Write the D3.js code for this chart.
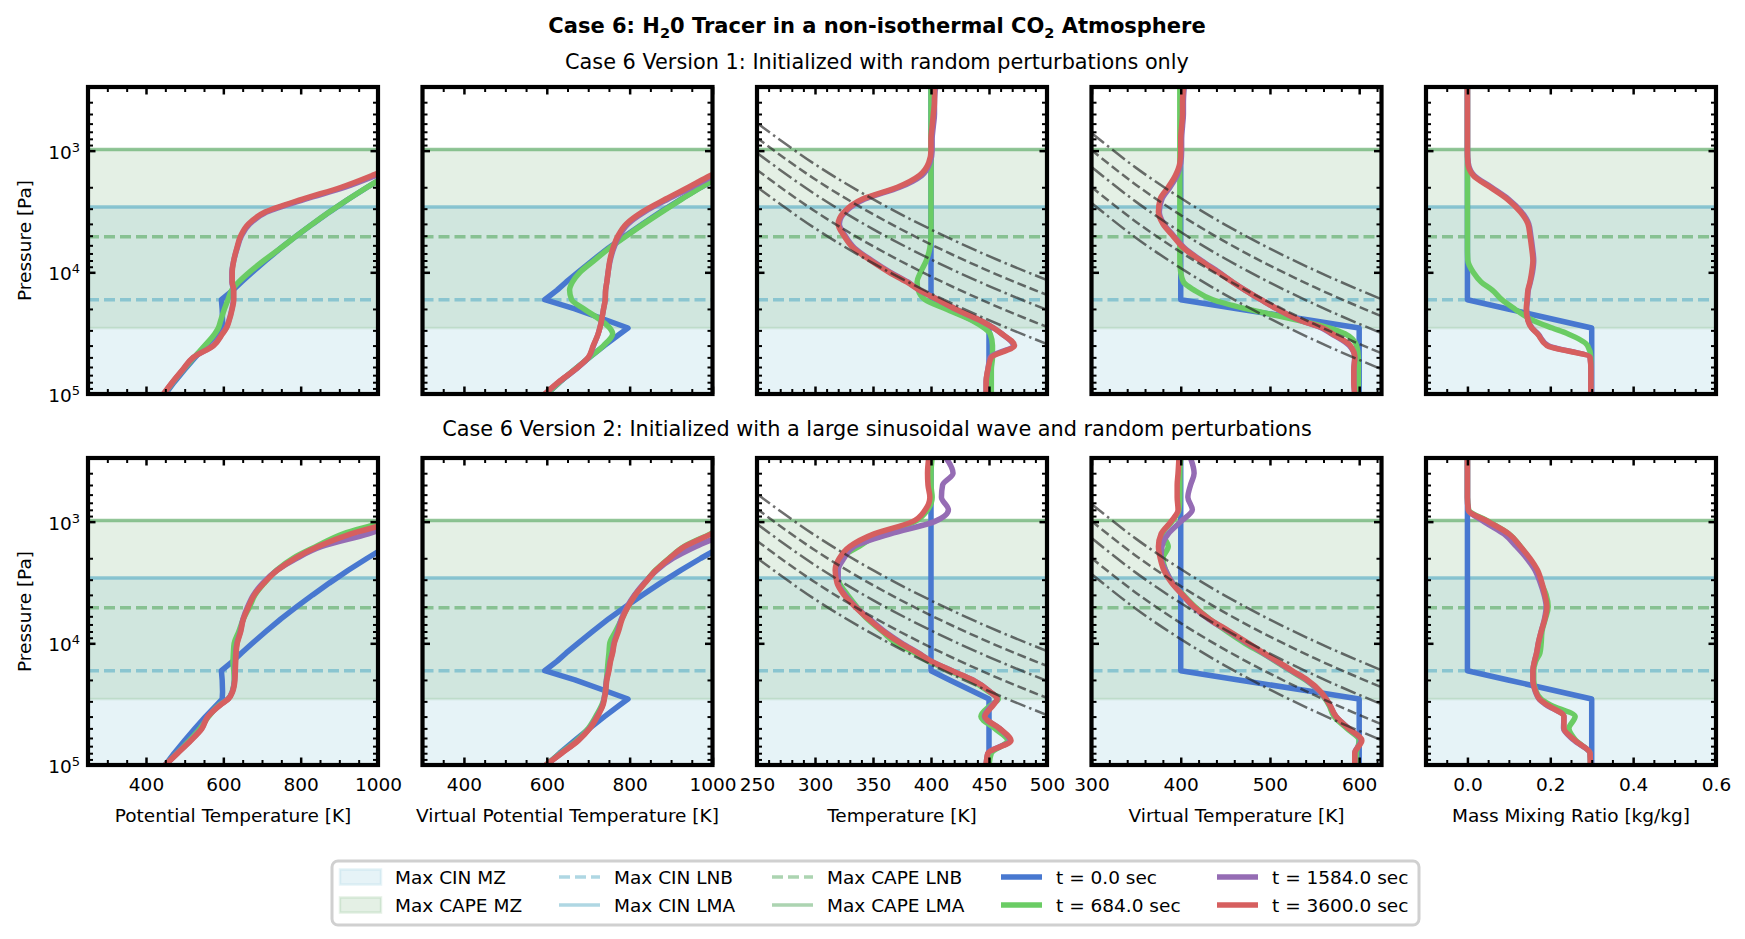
<!DOCTYPE html>
<html>
<head>
<meta charset="utf-8">
<title>Case 6 tracer profiles</title>
<script src="https://cdn.jsdelivr.net/npm/d3@7"></script>
<style>
  body { margin: 0; background: #fff; }
  text { font-family: "DejaVu Sans", sans-serif; }
</style>
</head>
<body>
<script>

// pressure levels [Pa] that every profile is read at, surface first
var pLevels = [100000, 80000, 63000, 50000, 40000, 32000, 28700, 25000, 20000, 16800, 14000, 12000, 10000, 8000,
               6300, 5000, 4000, 3200, 2500, 2000, 1600, 1260, 1000, 800, 630, 500, 400, 300];

var timeLabels = ["t = 0.0 sec", "t = 684.0 sec", "t = 1584.0 sec", "t = 3600.0 sec"];
var timeColors = ["#4878d0", "#6acc64", "#956cb4", "#d65f5f"];

// initial state (t = 0), same for both versions
var initTheta  = [450, 473, 500, 527, 554, 583, 597, 598, 597, 595, 625, 647, 675, 710, 749, 790, 831, 874, 924, 972, 1023, 1080, 1138, 1197, 1264, 1332, 1401, 1495];
var initThetaV = [600, 631, 667, 703, 739, 777, 796, 748, 668, 595, 625, 647, 675, 710, 749, 790, 831, 874, 924, 972, 1023, 1080, 1138, 1197, 1264, 1332, 1401, 1495];
var initT      = [450, 450, 450, 450, 450, 450, 450, 437, 416, 400, 400, 400, 400, 400, 400, 400, 400, 400, 400, 400, 400, 400, 400, 400, 400, 400, 400, 400];
var initTv     = [600, 600, 600, 600, 600, 600, 600, 549, 465, 400, 400, 400, 400, 400, 400, 400, 400, 400, 400, 400, 400, 400, 400, 400, 400, 400, 400, 400];
var initQ      = [0.3, 0.3, 0.3, 0.3, 0.3, 0.3, 0.3, 0.223, 0.098, 0, 0, 0, 0, 0, 0, 0, 0, 0, 0, 0, 0, 0, 0, 0, 0, 0, 0, 0];

// version 1 : rows are t = 684, 1584, 3600 s
var v1Theta = [
  [447, 470, 497, 524, 552, 578, 587, 593, 603, 612, 622, 640, 667, 705, 749, 790, 831, 874, 924, 972, 1023, 1080, 1138, 1197, 1264, 1332, 1401, 1495],
  [446, 469, 496, 523, 573, 597, 607, 614, 622, 626, 626, 622, 622, 627, 636, 647, 668, 712, 812, 915, 995, 1070, 1120, 1170, 1230, 1290, 1350, 1430],
  [445, 468, 495, 522, 575, 598, 608, 615, 623, 627, 627, 623, 623, 627, 635, 645, 665, 708, 805, 905, 985, 1060, 1110, 1160, 1220, 1280, 1340, 1420]];
var v1ThetaV = [
  [600, 631, 667, 703, 737, 759, 752, 732, 690, 660, 655, 662, 680, 714, 752, 793, 834, 877, 926, 972, 1023, 1080, 1138, 1197, 1264, 1332, 1401, 1495],
  [596, 629, 669, 701, 713, 724, 728, 732, 737, 741, 742, 745, 748, 753, 762, 775, 796, 835, 893, 950, 1003, 1068, 1118, 1168, 1228, 1288, 1348, 1428],
  [595, 628, 668, 700, 712, 724, 728, 732, 737, 741, 742, 745, 748, 752, 760, 772, 792, 830, 887, 942, 995, 1060, 1110, 1160, 1220, 1280, 1340, 1420]];
var v1T = [
  [452, 452, 452, 453, 453, 451, 446, 436, 413, 395, 389, 388, 391, 396, 399, 400, 400, 400, 400, 400, 400, 400, 400, 400, 400, 400, 400, 400],
  [447.5, 447.5, 449, 451, 471, 461, 454, 443, 421, 406, 390, 380, 365, 349, 334, 326, 321, 326, 343, 373, 392, 399, 401, 401, 402, 403, 403, 404],
  [447.5, 447.5, 449, 452, 472, 461, 454, 443, 421, 406, 390, 379, 364, 348, 333, 325, 320, 325, 341, 371, 390, 398, 400, 400, 401, 402, 403, 403]];
var v1Tv = [
  [599, 599, 599, 599, 597, 584, 567, 534, 474, 436, 415, 403, 400, 399, 399, 399, 399, 399, 399, 399, 399, 399, 399, 399, 399, 399, 399, 399],
  [595, 594, 594, 595, 589, 569, 558, 535, 508, 490, 472, 458, 443, 423, 404, 392, 381, 376, 379, 388, 396, 400, 401, 401, 402, 403, 403, 404],
  [595, 594, 594, 595, 590, 570, 559, 535, 508, 490, 472, 458, 442, 422, 403, 391, 380, 375, 377, 386, 394, 399, 400, 400, 401, 402, 402, 403]];
var v1Q = [
  [0.298, 0.298, 0.298, 0.298, 0.290, 0.242, 0.205, 0.160, 0.114, 0.083, 0.060, 0.033, 0.014, 0.001, 0, 0, 0, 0, 0, 0, 0, 0, 0, 0, 0, 0, 0, 0],
  [0.298, 0.298, 0.298, 0.296, 0.195, 0.170, 0.156, 0.147, 0.143, 0.145, 0.147, 0.152, 0.157, 0.160, 0.157, 0.153, 0.148, 0.131, 0.099, 0.058, 0.016, 0.002, 0, 0, 0, 0, 0, 0],
  [0.298, 0.298, 0.298, 0.296, 0.192, 0.169, 0.155, 0.146, 0.142, 0.144, 0.146, 0.151, 0.155, 0.158, 0.155, 0.151, 0.146, 0.128, 0.096, 0.055, 0.014, 0.001, 0, 0, 0, 0, 0, 0]];

// version 2 : rows are t = 684, 1584, 3600 s
var v2Theta = [
  [450, 480, 512, 540, 562, 590, 612, 623, 628, 627, 625, 626, 628, 640, 652, 668, 682, 706, 738, 780, 840, 910, 1015, 1075, 1125, 1175, 1225, 1295],
  [450, 481, 515, 544, 559, 592, 612, 623, 629, 630, 631, 632, 635, 644, 651, 663, 678, 702, 740, 790, 855, 975, 1060, 1110, 1160, 1210, 1260, 1330],
  [450, 482, 516, 545, 560, 593, 613, 624, 630, 631, 632, 633, 636, 645, 652, 665, 680, 705, 740, 785, 845, 930, 1040, 1090, 1140, 1190, 1240, 1310]];
var v2ThetaV = [
  [598, 633, 672, 700, 718, 733, 738, 741, 744, 746, 748, 750, 752, 766, 781, 796, 813, 836, 863, 895, 932, 995, 1048, 1098, 1148, 1198, 1248, 1318],
  [598, 635, 675, 703, 721, 735, 738, 741, 744, 749, 753, 758, 762, 771, 780, 794, 812, 835, 866, 905, 960, 1030, 1080, 1130, 1180, 1230, 1280, 1350],
  [598, 636, 676, 704, 722, 736, 739, 742, 745, 750, 754, 759, 763, 773, 782, 796, 814, 837, 864, 896, 933, 997, 1050, 1100, 1150, 1200, 1250, 1320]];
var v2T = [
  [450, 452, 466, 455, 443, 452, 458, 450, 434, 416, 398, 386, 370, 358, 345, 336, 328, 321, 318, 322, 338, 356, 386, 397, 401, 400, 400, 401],
  [447.5, 449, 468, 459, 446, 453, 457, 451, 436, 418, 400, 389, 375, 360, 347, 335, 326, 320, 320, 325, 334, 365, 403, 415, 409, 410, 419, 413],
  [447.5, 449, 469, 459, 446.5, 454, 457, 451, 436, 418, 400, 388.5, 374, 359, 346, 334.5, 325, 319, 317.4, 321, 330, 351, 384, 395, 399, 397.4, 397, 398]];
var v2Tv = [
  [597, 597, 600, 586, 572, 566, 562, 556, 540, 523, 506, 491, 472, 452, 432, 416, 403, 391, 383, 380, 386, 380, 390, 398, 399, 399, 399, 400],
  [595, 595, 602, 588, 574, 567, 563, 556, 541, 524, 507, 492, 475, 454, 431, 414, 402, 391, 383, 378, 379, 386, 400, 413, 408, 411, 415, 411],
  [595, 595, 603, 588, 574, 567, 563, 557, 542, 525, 508, 493, 476, 455, 432, 415, 402, 390, 381, 377, 375, 378, 389, 397, 396, 396, 397, 398]];
var v2Q = [
  [0.297, 0.296, 0.262, 0.245, 0.26, 0.2, 0.178, 0.166, 0.16, 0.16, 0.165, 0.175, 0.178, 0.18, 0.188, 0.195, 0.19, 0.178, 0.165, 0.148, 0.128, 0.1, 0.052, 0.003, 0, 0, 0, 0],
  [0.297, 0.296, 0.258, 0.232, 0.233, 0.19, 0.173, 0.164, 0.158, 0.158, 0.162, 0.167, 0.171, 0.178, 0.186, 0.19, 0.185, 0.176, 0.163, 0.143, 0.118, 0.088, 0.04, 0.002, 0, 0, 0, 0],
  [0.297, 0.296, 0.26, 0.233, 0.233, 0.192, 0.174, 0.165, 0.158, 0.158, 0.162, 0.167, 0.171, 0.178, 0.187, 0.192, 0.187, 0.18, 0.169, 0.151, 0.128, 0.10, 0.05, 0.002, 0, 0, 0, 0]];

// dry adiabats drawn on the temperature panels: x values and the pressure of each line there
var adiabatT = [250, 300, 350, 400, 450, 500];
var adiabatTP = [
  [593, 1295, 2507, 4447, 7365, 11560],
  [787, 1718, 3327, 5902, 9775, 15350],
  [1045, 2281, 4417, 7837, 12980, 20380],
  [1442, 3148, 6095, 10810, 17910, 28120],
  [1991, 4346, 8416, 14930, 24730, 38820]];
var adiabatTv = [300, 350, 400, 450, 500, 550, 625];
var adiabatTvP = [
  [716, 1386, 2454, 4069, 6390, 9609, 16630],
  [988, 1913, 3387, 5615, 8817, 13260, 22950],
  [1362, 2637, 4669, 7740, 12150, 18280, 31640],
  [1990, 3853, 6822, 11310, 17760, 26710, 46230],
  [2694, 5216, 9235, 15310, 24040, 36150, 62580]];

// convective levels [Pa]
var cinZone = [100000, 2900];   // Max CIN MZ
var capeZone = [28700, 980];    // Max CAPE MZ
var cinLNB = 16800, cinLMA = 2900, capeLNB = 5100, capeLMA = 980;

var xLabels = ["Potential Temperature [K]", "Virtual Potential Temperature [K]", "Temperature [K]",
               "Virtual Temperature [K]", "Mass Mixing Ratio [kg/kg]"];
var xDomains = [[250, 1000], [300, 1000], [250, 500], [300, 625], [-0.1, 0.6]];
var xMajor = [[400, 600, 800, 1000], [400, 600, 800, 1000], [250, 300, 350, 400, 450, 500],
              [300, 400, 500, 600], [0.0, 0.2, 0.4, 0.6]];
var xMinorStep = [50, 50, 10, 20, 0.05];
var yMajor = [1e3, 1e4, 1e5];

var rowTitles = ["Case 6 Version 1: Initialized with random perturbations only",
                 "Case 6 Version 2: Initialized with a large sinusoidal wave and random perturbations"];

var width = 1745, height = 939;
var lefts = [88, 422.5, 757, 1091.5, 1426], pw = 290, ph = 307, tops = [87, 458];
var fs = 18.5;

var cinBlue = "#add8e6", capeGreen = "#78b47d";
var cinLine = "#5fb0c8", capeLine = "#5aaa64";

var svg = d3.select("body").append("svg")
  .attr("width", width)
  .attr("height", height);

var rows = [
  [[initTheta].concat(v1Theta), [initThetaV].concat(v1ThetaV), [initT].concat(v1T), [initTv].concat(v1Tv), [initQ].concat(v1Q)],
  [[initTheta].concat(v2Theta), [initThetaV].concat(v2ThetaV), [initT].concat(v2T), [initTv].concat(v2Tv), [initQ].concat(v2Q)]
];

function drawPanel(row, col) {
  var x0 = lefts[col], y0 = tops[row];
  var x = d3.scaleLinear().domain(xDomains[col]).range([x0, x0 + pw]);
  var y = d3.scaleLog().domain([1e5, 300]).range([y0 + ph, y0]);
  var id = "clip" + row + "_" + col;

  svg.append("clipPath").attr("id", id)
    .append("rect").attr("x", x0).attr("y", y0).attr("width", pw).attr("height", ph);

  var g = svg.append("g");
  var inner = g.append("g").attr("clip-path", "url(#" + id + ")");

  // zones
  [[cinZone, cinBlue, 0.3], [capeZone, capeGreen, 0.2]].forEach(function (z) {
    inner.append("rect")
      .attr("x", x0 - 5).attr("width", pw + 10)
      .attr("y", y(z[0][1])).attr("height", y(z[0][0]) - y(z[0][1]))
      .attr("fill", z[1]).attr("fill-opacity", z[2])
      .attr("stroke", z[1]).attr("stroke-opacity", z[2]).attr("stroke-width", 2.5);
  });

  // levels
  [[cinLNB, cinLine, "11,5"], [cinLMA, cinLine, null], [capeLNB, capeLine, "11,5"], [capeLMA, capeLine, null]]
    .forEach(function (l) {
      inner.append("line")
        .attr("x1", x0).attr("x2", x0 + pw)
        .attr("y1", y(l[0])).attr("y2", y(l[0]))
        .attr("stroke", l[1]).attr("stroke-opacity", 0.62)
        .attr("stroke-width", 3.5)
        .attr("stroke-dasharray", l[2]);
    });

  var series = rows[row][col];
  series.forEach(function (vals, k) {
    var line = d3.line()
      .x(function (d, i) { return x(vals[i]); })
      .y(function (d) { return y(d); })
      .curve(k === 0 ? d3.curveLinear : d3.curveMonotoneY);
    inner.append("path")
      .datum(pLevels)
      .attr("d", line)
      .attr("fill", "none")
      .attr("stroke", timeColors[k])
      .attr("stroke-width", 5.5)
      .attr("stroke-linejoin", "round");
  });

  // adiabats
  if (col === 2 || col === 3) {
    var ax = col === 2 ? adiabatT : adiabatTv;
    var ap = col === 2 ? adiabatTP : adiabatTvP;
    ap.forEach(function (ps, j) {
      var aline = d3.line()
        .x(function (d) { return x(d); })
        .y(function (d, i) { return y(ps[i]); })
        .curve(d3.curveMonotoneX);
      inner.append("path")
        .datum(ax)
        .attr("d", aline)
        .attr("fill", "none")
        .attr("stroke", "#222")
        .attr("stroke-opacity", 0.65)
        .attr("stroke-width", 2.5)
        .attr("stroke-dasharray", j % 2 === 0 ? "16,4,2.5,4" : "9,4");
    });
  }

  // ticks
  var d0 = xDomains[col][0], d1 = xDomains[col][1], st = xMinorStep[col];
  var minor = d3.range(Math.round((d1 - d0) / st) + 1).map(function (i) { return d0 + i * st; })
    .filter(function (v) { return !xMajor[col].some(function (m) { return Math.abs(m - v) < 1e-9; }); });
  var yMinor = y.ticks().filter(function (v) { return yMajor.indexOf(v) < 0; });

  var fmt = col === 4 ? d3.format(".1f") : d3.format("d");

  function styleAxis(a, w) {
    a.select(".domain").remove();
    a.selectAll(".tick line").attr("stroke", "#000").attr("stroke-width", w);
    a.selectAll("text").attr("font-family", "DejaVu Sans").attr("font-size", fs).attr("fill", "#000");
  }

  var bottom = g.append("g").attr("transform", "translate(0," + (y0 + ph) + ")")
    .call(d3.axisBottom(x).tickValues(xMajor[col]).tickSize(-7.5).tickPadding(13)
      .tickFormat(row === 1 ? fmt : function () { return ""; }));
  styleAxis(bottom, 2.5);
  styleAxis(g.append("g").attr("transform", "translate(0," + (y0 + ph) + ")")
    .call(d3.axisBottom(x).tickValues(minor).tickSize(-5).tickFormat("")), 2);
  styleAxis(g.append("g").attr("transform", "translate(0," + y0 + ")")
    .call(d3.axisTop(x).tickValues(xMajor[col]).tickSize(-7.5).tickFormat("")), 2.5);
  styleAxis(g.append("g").attr("transform", "translate(0," + y0 + ")")
    .call(d3.axisTop(x).tickValues(minor).tickSize(-5).tickFormat("")), 2);

  styleAxis(g.append("g").attr("transform", "translate(" + x0 + ",0)")
    .call(d3.axisLeft(y).tickValues(yMajor).tickSize(-7.5).tickFormat("")), 2.5);
  styleAxis(g.append("g").attr("transform", "translate(" + x0 + ",0)")
    .call(d3.axisLeft(y).tickValues(yMinor).tickSize(-5).tickFormat("")), 2);
  styleAxis(g.append("g").attr("transform", "translate(" + (x0 + pw) + ",0)")
    .call(d3.axisRight(y).tickValues(yMajor).tickSize(-7.5).tickFormat("")), 2.5);
  styleAxis(g.append("g").attr("transform", "translate(" + (x0 + pw) + ",0)")
    .call(d3.axisRight(y).tickValues(yMinor).tickSize(-5).tickFormat("")), 2);

  if (col === 0) {
    var lab = g.selectAll(".ylab").data(yMajor).enter().append("text")
      .attr("x", x0 - 8)
      .attr("y", function (d) { return y(d) + 8; })
      .attr("text-anchor", "end")
      .attr("font-size", fs);
    lab.append("tspan").text("10");
    lab.append("tspan").attr("font-size", 13).attr("dy", -7)
      .text(function (d) { return Math.round(Math.log10(d)); });

    g.append("text")
      .attr("transform", "translate(31," + (y0 + ph / 2) + ") rotate(-90)")
      .attr("text-anchor", "middle")
      .attr("font-size", fs)
      .text("Pressure [Pa]");
  }

  if (row === 1) {
    g.append("text")
      .attr("x", x0 + pw / 2).attr("y", 822)
      .attr("text-anchor", "middle")
      .attr("font-size", fs)
      .text(xLabels[col]);
  }

  g.append("rect")
    .attr("x", x0).attr("y", y0).attr("width", pw).attr("height", ph)
    .attr("fill", "none").attr("stroke", "#000").attr("stroke-width", 4.2);
}

for (var r = 0; r < 2; r++) {
  for (var c = 0; c < 5; c++) drawPanel(r, c);
}

// titles
var title = svg.append("text")
  .attr("x", 877).attr("y", 33)
  .attr("text-anchor", "middle")
  .attr("font-size", 21).attr("font-weight", "bold");
title.append("tspan").text("Case 6: H");
title.append("tspan").attr("font-size", 14.5).attr("dy", 5).text("2");
title.append("tspan").attr("dy", -5).text("0 Tracer in a non-isothermal CO");
title.append("tspan").attr("font-size", 14.5).attr("dy", 5).text("2");
title.append("tspan").attr("dy", -5).text(" Atmosphere");

svg.selectAll(".rowtitle").data(rowTitles).enter().append("text")
  .attr("x", 877)
  .attr("y", function (d, i) { return i === 0 ? 69 : 436; })
  .attr("text-anchor", "middle")
  .attr("font-size", 20.8)
  .text(function (d) { return d; });

// legend
var legendCols = [
  [{label: "Max CIN MZ", kind: "patch", color: cinBlue, op: 0.3}, {label: "Max CAPE MZ", kind: "patch", color: capeGreen, op: 0.2}],
  [{label: "Max CIN LNB", kind: "line", color: cinLine, op: 0.5, dash: "11,5", w: 3.5}, {label: "Max CIN LMA", kind: "line", color: cinLine, op: 0.5, w: 3.5}],
  [{label: "Max CAPE LNB", kind: "line", color: capeLine, op: 0.5, dash: "11,5", w: 3.5}, {label: "Max CAPE LMA", kind: "line", color: capeLine, op: 0.5, w: 3.5}],
  [{label: timeLabels[0], kind: "line", color: timeColors[0], op: 1, w: 5.5}, {label: timeLabels[1], kind: "line", color: timeColors[1], op: 1, w: 5.5}],
  [{label: timeLabels[2], kind: "line", color: timeColors[2], op: 1, w: 5.5}, {label: timeLabels[3], kind: "line", color: timeColors[3], op: 1, w: 5.5}]
];
var legendTextX = [395, 614, 827, 1056, 1272];
var legendRowY = [877, 905];

var leg = svg.append("g");
leg.append("rect")
  .attr("x", 332).attr("y", 861).attr("width", 1087).attr("height", 64)
  .attr("rx", 6).attr("fill", "#fff")
  .attr("stroke", "#d0d0d0").attr("stroke-width", 3);

legendCols.forEach(function (col, ci) {
  col.forEach(function (it, ri) {
    var tx = legendTextX[ci], cy = legendRowY[ri];
    if (it.kind === "patch") {
      leg.append("rect")
        .attr("x", tx - 55).attr("y", cy - 7.5).attr("width", 41).attr("height", 15)
        .attr("fill", it.color).attr("fill-opacity", it.op)
        .attr("stroke", it.color).attr("stroke-opacity", it.op).attr("stroke-width", 2.5);
    } else {
      leg.append("line")
        .attr("x1", tx - 55).attr("x2", tx - 14)
        .attr("y1", cy).attr("y2", cy)
        .attr("stroke", it.color).attr("stroke-opacity", it.op)
        .attr("stroke-width", it.w)
        .attr("stroke-dasharray", it.dash || null);
    }
    leg.append("text")
      .attr("x", tx).attr("y", cy + 6.5)
      .attr("font-size", fs)
      .text(it.label);
  });
});

</script>
</body>
</html>
